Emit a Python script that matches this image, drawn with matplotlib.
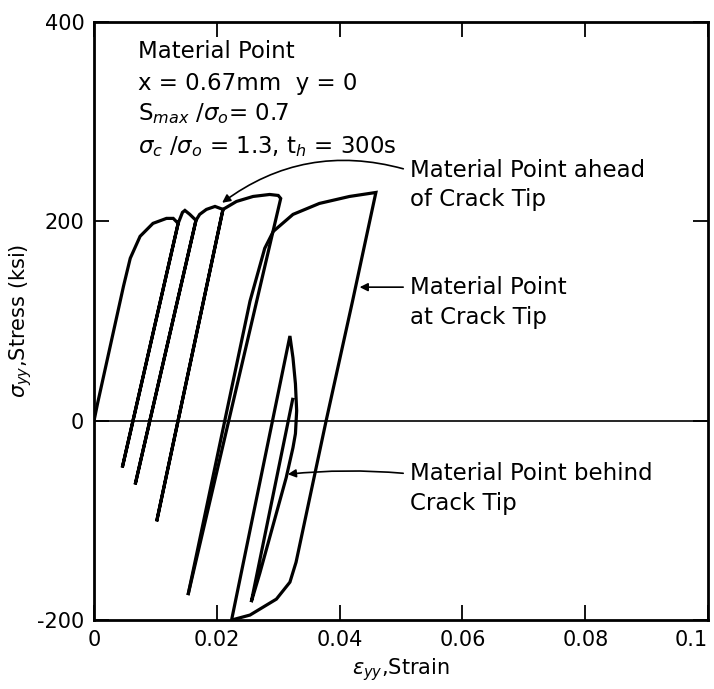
import numpy as np
import matplotlib
matplotlib.use("Agg")
import matplotlib.pyplot as plt

# ── data (strain, stress ksi) ────────────────────────────────
# material point ahead of crack tip: cyclic humps with elastic spikes
ahead_strain = [0.0, 0.0006, 0.0048, 0.0059, 0.0075, 0.0096, 0.0118, 0.0129, 0.0137,
                0.0046, 0.0137, 0.0144, 0.0148, 0.0156, 0.0166,
                0.0067, 0.0166, 0.0172, 0.0183, 0.0197, 0.0210,
                0.0102, 0.0210, 0.0232, 0.0259, 0.0286, 0.0300, 0.0304,
                0.0153]
ahead_stress = [0, 18, 135, 163, 185, 198, 203, 203, 198,
                -47, 198, 209, 211, 207, 201,
                -64, 201, 207, 212, 215, 212,
                -101, 212, 220, 225, 227, 226, 223,
                -175]

# material point at crack tip: big loop
tip_strain = [0.0153, 0.0254, 0.0278, 0.0292, 0.0324, 0.0367, 0.0416, 0.0459,
              0.0421, 0.0378, 0.0329, 0.0319, 0.0297, 0.0254, 0.0224]
tip_stress = [-175, 120, 173, 190, 207, 218, 225, 229,
              120, 0, -142, -162, -179, -195, -200]

# material point behind crack tip: thin loop
behind_strain = [0.0224, 0.0319, 0.0324, 0.0328, 0.0330, 0.0328, 0.0324,
                 0.0313, 0.0270, 0.0256, 0.0324]
behind_stress = [-200, 85, 63, 37, 10, -13, -27,
                 -57, -153, -182, 23]

x_ticks = [0, 0.02, 0.04, 0.06, 0.08, 0.1]
x_tick_labels = ["0", "0.02", "0.04", "0.06", "0.08", "0.1"]
y_ticks = [-200, 0, 200, 400]
y_tick_labels = ["-200", "0", "200", "400"]

fig = plt.figure(figsize=(7.14, 6.89), dpi=100)
ax = fig.add_axes([0.1317, 0.1001, 0.86, 0.8679])

for xs, ys in [(ahead_strain, ahead_stress), (tip_strain, tip_stress),
               (behind_strain, behind_stress)]:
    ax.plot(xs, ys, color="black", lw=2.3, solid_joinstyle="miter",
            solid_capstyle="butt", zorder=3)

ax.axhline(0, color="black", lw=1.2, zorder=2)

ax.set_xlim(0, 0.1)
ax.set_ylim(-200, 400)
for s in ax.spines.values():
    s.set_linewidth(2.0)

ax.set_xticks(x_ticks)
ax.set_xticklabels(x_tick_labels)
ax.set_yticks(y_ticks)
ax.set_yticklabels(y_tick_labels)
ax.tick_params(direction="in", length=11, width=1.3, labelsize=15, pad=7,
               top=True, right=True)
ax.get_xticklabels()[-1].set_horizontalalignment("right")

ax.set_xlabel(r"$\epsilon_{yy}$,Strain", fontsize=15, labelpad=5)
ax.set_ylabel(r"$\sigma_{yy}$,Stress (ksi)", fontsize=15, labelpad=2)

fs = 16.5
ax.text(0.0072, 370, "Material Point", fontsize=fs, va="center")
ax.text(0.0072, 338, "x = 0.67mm  y = 0", fontsize=fs, va="center")
ax.text(0.0072, 308, r"S$_{max}$ /$\sigma_o$= 0.7", fontsize=fs, va="center")
ax.text(0.0072, 275, r"$\sigma_c$ /$\sigma_o$ = 1.3, t$_h$ = 300s", fontsize=fs, va="center")

ax.text(0.0514, 251, "Material Point ahead", fontsize=fs, va="center")
ax.text(0.0514, 222, "of Crack Tip", fontsize=fs, va="center")
ax.annotate("", xy=(0.0205, 217), xytext=(0.0508, 252),
            arrowprops=dict(arrowstyle="-|>", color="black", lw=1.2,
                            connectionstyle="arc3,rad=0.25", mutation_scale=12))

ax.text(0.0514, 134, "Material Point", fontsize=fs, va="center")
ax.text(0.0514, 104, "at Crack Tip", fontsize=fs, va="center")
ax.annotate("", xy=(0.0428, 134), xytext=(0.0508, 134),
            arrowprops=dict(arrowstyle="-|>", color="black", lw=1.2,
                            mutation_scale=12))

ax.text(0.0514, -53, "Material Point behind", fontsize=fs, va="center")
ax.text(0.0514, -83, "Crack Tip", fontsize=fs, va="center")
ax.annotate("", xy=(0.0311, -54), xytext=(0.0508, -53),
            arrowprops=dict(arrowstyle="-|>", color="black", lw=1.2,
                            connectionstyle="arc3,rad=0.05", mutation_scale=12))

fig.savefig("out.png", dpi=100, facecolor="white")
